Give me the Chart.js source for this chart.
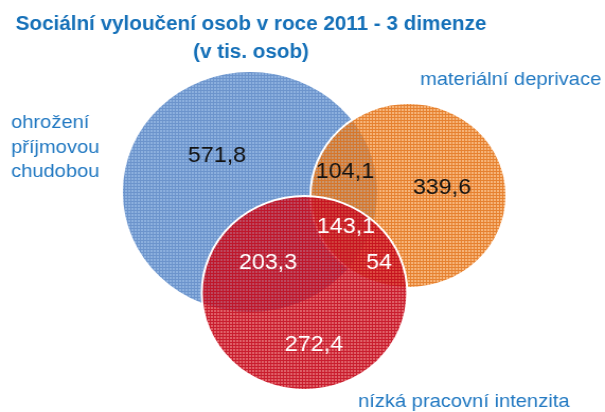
<!DOCTYPE html>
<html>
<head>
<meta charset="utf-8">
<script src="https://cdn.jsdelivr.net/npm/chart.js@4/dist/chart.umd.min.js"></script>
<style>
  html, body { margin: 0; padding: 0; background: #fff; overflow: hidden; }
  #wrap {
    width: 571px;
    height: 412px;
    transform: scaleX(1.0595);
    transform-origin: 0 0;
  }
</style>
</head>
<body>
<div id="wrap"><canvas id="venn"></canvas></div>
<script>
// categories (the three dimensions)
const categories = ["ohrožení příjmovou chudobou", "materiální deprivace", "nízká pracovní intenzita"]

// region values in thousands of persons
const regionNames = ["jen chudoba", "chudoba + deprivace", "jen deprivace", "všechny tři", "chudoba + intenzita", "deprivace + intenzita", "jen intenzita"]
const regionValues = [571.8, 104.1, 339.6, 143.1, 203.3, 54, 272.4]

// circle layout of the diagram (picture units)
const circleX = [250, 408.5, 304.5]
const circleY = [192, 195.5, 293]
const circleR = [120, 92.5, 97]

// where each region value sits
const regionX = [217, 345, 442, 346, 268, 379, 314]
const regionY = [156, 172, 188, 227, 263, 263, 345]
const regionDark = [true, true, true, false, false, false, false]

const titleLines = ["Sociální vyloučení osob v roce 2011 - 3 dimenze", "(v tis. osob)"]

const FONT = "'Liberation Sans', Arial, sans-serif"

function hatch(base, line) {
  let c = document.createElement("canvas")
  c.width = 3
  c.height = 3
  let g = c.getContext("2d")
  g.fillStyle = base
  g.fillRect(0, 0, 3, 3)
  g.fillStyle = line
  g.fillRect(0, 0, 3, 1)
  g.fillRect(0, 1, 1, 2)
  return g.createPattern(c, "repeat")
}

let ctx = document.getElementById("venn").getContext("2d")

let fills = [
  hatch("rgb(140,176,222)", "rgb(108,148,204)"),
  hatch("rgba(240,135,40,0.62)", "rgba(225,110,20,0.72)"),
  hatch("rgba(210,30,40,0.7)", "rgba(195,10,30,0.78)"),
]

let labelsPlugin = {
  id: "vennLabels",
  afterDatasetsDraw(chart) {
    let x = chart.scales.x
    let y = chart.scales.y
    let c = chart.ctx
    c.save()
    c.textBaseline = "middle"
    c.textAlign = "center"

    // title
    c.font = "bold 19.5px " + FONT
    c.fillStyle = "#1570b8"
    titleLines.forEach((t, i) => {
      c.fillText(t, x.getPixelForValue(251), y.getPixelForValue(25 + i * 28))
    })

    // region values
    c.font = "22px " + FONT
    regionValues.forEach((v, i) => {
      c.fillStyle = regionDark[i] ? "#111" : "#fff"
      c.fillText(String(v).replace(".", ","), x.getPixelForValue(regionX[i]), y.getPixelForValue(regionY[i]))
    })

    // circle names
    c.font = "19px " + FONT
    c.fillStyle = "#2279c2"
    c.textAlign = "left"
    let first = categories[0].split(" ")
    first.forEach((w, i) => {
      c.fillText(w, x.getPixelForValue(11), y.getPixelForValue(123 + i * 24.5))
    })
    c.fillText(categories[1], x.getPixelForValue(420), y.getPixelForValue(80))
    c.fillText(categories[2], x.getPixelForValue(358), y.getPixelForValue(402))
    c.restore()
  },
}

let chart = new Chart(ctx, {
  type: "bubble",
  data: {
    labels: categories,
    datasets: categories.map((name, i) => ({
      label: name,
      data: [{ x: circleX[i], y: circleY[i], r: circleR[i] }],
      backgroundColor: fills[i],
      borderColor: "#fff",
      borderWidth: i == 0 ? 0 : 2,
      order: 3 - i,
      clip: false,
    })),
  },
  options: {
    responsive: true,
    maintainAspectRatio: false,
    animation: false,
    events: [],
    layout: { padding: 0, autoPadding: false },
    scales: {
      x: { type: "linear", min: 0, max: 605, display: false },
      y: { type: "linear", min: 0, max: 412, reverse: true, display: false },
    },
    plugins: {
      legend: { display: false },
      tooltip: { enabled: false },
      title: { display: false },
    },
  },
  plugins: [labelsPlugin],
})
</script>
</body>
</html>
